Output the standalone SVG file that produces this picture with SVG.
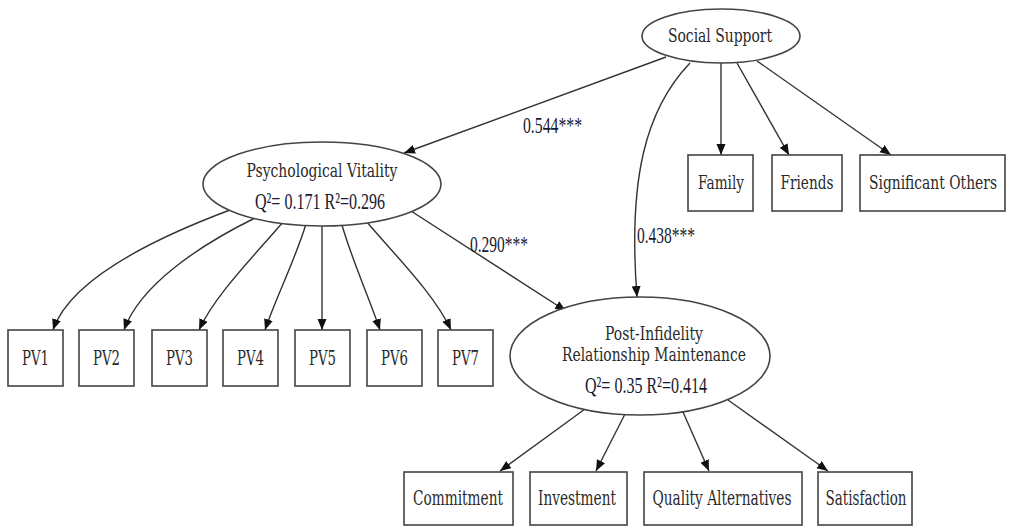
<svg xmlns="http://www.w3.org/2000/svg" width="1011" height="527" viewBox="0 0 1011 527">
<style>
.n{fill:#fff;stroke:#444;stroke-width:1.6}
.t{font-family:"DejaVu Serif","Liberation Serif",serif;font-size:19px;fill:#2a2a2a;text-anchor:middle}
.b{font-size:20px}
.q{font-family:"Liberation Serif","Times New Roman",serif;font-size:23px;fill:#1a1a30;text-anchor:middle}
.l{font-family:"Liberation Serif","Times New Roman",serif;font-size:23px;fill:#1a1a30}
.e{fill:none;stroke:#333;stroke-width:1.4}
</style>
<defs>
<marker id="ah" markerUnits="userSpaceOnUse" markerWidth="12" markerHeight="10" refX="11" refY="4.5" orient="auto">
<path d="M0,0 L11,4.5 L0,9 z" fill="#111"/>
</marker>
</defs>
<rect width="1011" height="527" fill="#fff"/>
<g id="connectors">
<path class="e" marker-end="url(#ah)" d="M666,57 L404,153"/>
<path class="e" marker-end="url(#ah)" d="M721,63 L721,155"/>
<path class="e" marker-end="url(#ah)" d="M737,63 L789,155"/>
<path class="e" marker-end="url(#ah)" d="M757,61 L891,155"/>
<path class="e" marker-end="url(#ah)" d="M690,63 C645,110 628,180 637,297"/>
<path class="e" marker-end="url(#ah)" d="M411,211 L566,311"/>
<path class="e" marker-end="url(#ah)" d="M230,210 C150,240 70,280 53,330"/>
<path class="e" marker-end="url(#ah)" d="M255,218 C200,245 140,285 124,330"/>
<path class="e" marker-end="url(#ah)" d="M283,222 C255,255 215,295 199,330"/>
<path class="e" marker-end="url(#ah)" d="M306,224 C295,260 275,300 265,330"/>
<path class="e" marker-end="url(#ah)" d="M322,226 L322,330"/>
<path class="e" marker-end="url(#ah)" d="M342,225 C352,260 370,300 380,330"/>
<path class="e" marker-end="url(#ah)" d="M366,221 C395,255 435,295 451,330"/>
<path class="e" marker-end="url(#ah)" d="M585,409 L500,471"/>
<path class="e" marker-end="url(#ah)" d="M625,414 L596,471"/>
<path class="e" marker-end="url(#ah)" d="M683,412 L709,471"/>
<path class="e" marker-end="url(#ah)" d="M728,400 L828,471"/>
<text class="l" x="523" y="133" textLength="59" lengthAdjust="spacingAndGlyphs">0.544***</text>
<text class="l" x="470" y="252" textLength="58" lengthAdjust="spacingAndGlyphs">0.290***</text>
<text class="l" x="637" y="243" textLength="58" lengthAdjust="spacingAndGlyphs">0.438***</text>
</g>
<g id="social-support">
<ellipse class="n" cx="721" cy="36" rx="79" ry="27"/>
<text class="t" x="720" y="42" textLength="104" lengthAdjust="spacingAndGlyphs">Social Support</text>
</g>
<g id="psychological-vitality">
<ellipse class="n" cx="322" cy="184" rx="119" ry="42"/>
<text class="t" x="322" y="177" textLength="151" lengthAdjust="spacingAndGlyphs">Psychological Vitality</text>
<text class="q" x="320" y="209" textLength="130" lengthAdjust="spacingAndGlyphs">Q²= 0.171 R²=0.296</text>
</g>
<g id="post-infidelity">
<ellipse class="n" cx="640" cy="356" rx="130" ry="59"/>
<text class="t" x="654" y="340" textLength="98" lengthAdjust="spacingAndGlyphs">Post-Infidelity</text>
<text class="t" x="654" y="361" textLength="184" lengthAdjust="spacingAndGlyphs">Relationship Maintenance</text>
<text class="q" x="646" y="393" textLength="122" lengthAdjust="spacingAndGlyphs">Q²= 0.35 R²=0.414</text>
</g>
<g id="family"><rect class="n" x="688" y="155" width="65" height="56"/><text class="t" x="721" y="189" textLength="46" lengthAdjust="spacingAndGlyphs">Family</text></g>
<g id="friends"><rect class="n" x="772" y="155" width="70" height="56"/><text class="t" x="807" y="189" textLength="53" lengthAdjust="spacingAndGlyphs">Friends</text></g>
<g id="significant-others"><rect class="n" x="860" y="155" width="145" height="56"/><text class="t" x="933" y="189" textLength="128" lengthAdjust="spacingAndGlyphs">Significant Others</text></g>
<g id="pv1"><rect class="n" x="8" y="330" width="55" height="56"/><text class="t b" x="35.5" y="365" textLength="27" lengthAdjust="spacingAndGlyphs">PV1</text></g>
<g id="pv2"><rect class="n" x="79" y="330" width="55" height="56"/><text class="t b" x="106.5" y="365" textLength="27" lengthAdjust="spacingAndGlyphs">PV2</text></g>
<g id="pv3"><rect class="n" x="152" y="330" width="55" height="56"/><text class="t b" x="179.5" y="365" textLength="27" lengthAdjust="spacingAndGlyphs">PV3</text></g>
<g id="pv4"><rect class="n" x="223" y="330" width="55" height="56"/><text class="t b" x="250.5" y="365" textLength="27" lengthAdjust="spacingAndGlyphs">PV4</text></g>
<g id="pv5"><rect class="n" x="295" y="330" width="55" height="56"/><text class="t b" x="322.5" y="365" textLength="27" lengthAdjust="spacingAndGlyphs">PV5</text></g>
<g id="pv6"><rect class="n" x="367" y="330" width="55" height="56"/><text class="t b" x="394.5" y="365" textLength="27" lengthAdjust="spacingAndGlyphs">PV6</text></g>
<g id="pv7"><rect class="n" x="438" y="330" width="55" height="56"/><text class="t b" x="465.5" y="365" textLength="27" lengthAdjust="spacingAndGlyphs">PV7</text></g>
<g id="commitment"><rect class="n" x="404" y="472" width="109" height="53"/><text class="t b" x="458" y="505" textLength="90" lengthAdjust="spacingAndGlyphs">Commitment</text></g>
<g id="investment"><rect class="n" x="530" y="472" width="97" height="53"/><text class="t b" x="577" y="505" textLength="78" lengthAdjust="spacingAndGlyphs">Investment</text></g>
<g id="quality-alternatives"><rect class="n" x="644" y="472" width="158" height="53"/><text class="t b" x="722" y="505" textLength="139" lengthAdjust="spacingAndGlyphs">Quality Alternatives</text></g>
<g id="satisfaction"><rect class="n" x="818" y="472" width="94" height="53"/><text class="t b" x="866" y="505" textLength="81" lengthAdjust="spacingAndGlyphs">Satisfaction</text></g>
</svg>
